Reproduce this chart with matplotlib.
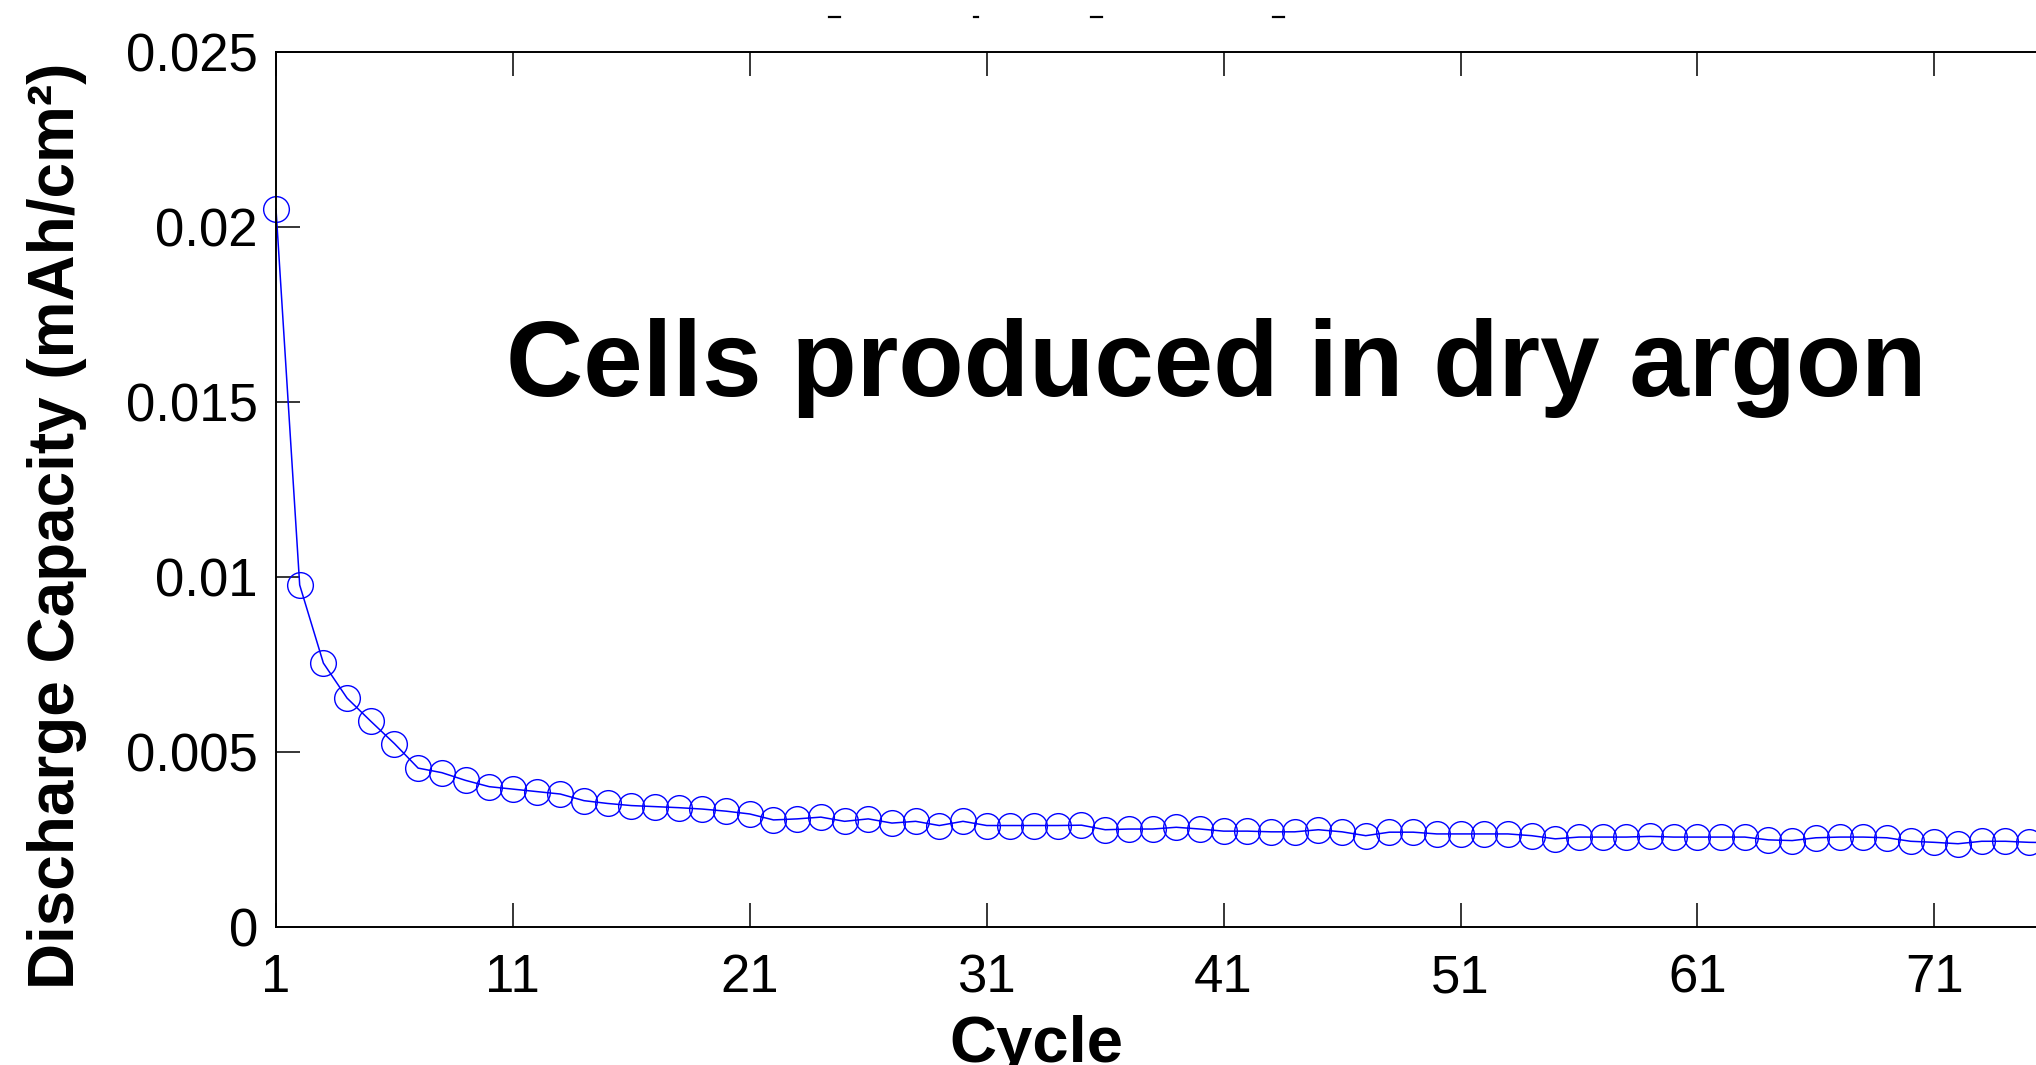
import numpy as np
import matplotlib.pyplot as plt
from matplotlib.lines import Line2D

plt.rcParams['font.family'] = ['Liberation Sans', 'DejaVu Sans']

# discharge capacity per cycle (mAh/cm^2)
cycles = np.arange(1, 77)
capacity = [
    0.0205, 0.00976, 0.00753, 0.00653, 0.00587, 0.00523, 0.00453, 0.00440,
    0.00418, 0.00400, 0.00393, 0.00386, 0.00379, 0.00360, 0.00352, 0.00346,
    0.00343, 0.00340, 0.00336, 0.00330, 0.00322, 0.00305, 0.00308, 0.00313,
    0.00301, 0.00308, 0.00296, 0.00301, 0.00289, 0.00301, 0.00289, 0.00289,
    0.00289, 0.00289, 0.00290, 0.00277, 0.00279, 0.00279, 0.00284, 0.00279,
    0.00273, 0.00273, 0.00271, 0.00271, 0.00277, 0.00271, 0.00260, 0.00270,
    0.00270, 0.00265, 0.00265, 0.00265, 0.00265, 0.00260, 0.00251, 0.00256,
    0.00256, 0.00256, 0.00258, 0.00256, 0.00256, 0.00256, 0.00256, 0.00248,
    0.00246, 0.00254, 0.00256, 0.00256, 0.00254, 0.00244, 0.00241, 0.00237,
    0.00244, 0.00244, 0.00241, 0.00240,
]

x_ticks = [1, 11, 21, 31, 41, 51, 61, 71]
y_ticks = [0, 0.005, 0.01, 0.015, 0.02, 0.025]
y_tick_labels = ['0', '0.005', '0.01', '0.015', '0.02', '0.025']

W, H = 2036, 1065
fig = plt.figure(figsize=(W / 100, H / 100), dpi=100)
fig.patch.set_facecolor('white')

# axes run past the right edge of the picture (cropped original)
left, bottom, top = 276, 926.7, 51.5
px_per_cycle = 23.69
ax = fig.add_axes([left / W, (H - bottom) / H,
                   80 * px_per_cycle / W, (bottom - top) / H])

ax.plot(cycles, capacity, color='#0000ff', linewidth=1.1,
        marker='o', markersize=18.5, markerfacecolor='none',
        markeredgewidth=1.0, markeredgecolor='#0000ff', clip_on=False)

ax.set_xlim(1, 81)
ax.set_ylim(0, 0.025)
ax.set_xticks(x_ticks)
ax.set_yticks(y_ticks, y_tick_labels)

for s in ax.spines.values():
    s.set_linewidth(1.4)
    s.set_color('black')
ax.tick_params(direction='in', length=17, width=1.1, labelsize=38,
               top=True, right=True, colors='black')
ax.tick_params(axis='y', pad=13)
ax.tick_params(axis='x', pad=19)

fig.text(57 / W, (H - 526) / H, 'Discharge Capacity (mAh/cm²)',
         rotation=90, ha='center', va='center', fontsize=46,
         fontweight='bold')
fig.text(1036 / W, 3 / H, 'Cycle', ha='center', va='baseline',
         fontsize=47, fontweight='bold')
fig.text(506 / W, (H - 396) / H, 'Cells produced in dry argon',
         ha='left', va='baseline', fontsize=77, fontweight='bold')

# leftover dashes of a cropped title at the very top
for x0, w in [(829, 11), (974, 4), (1091, 11), (1273, 11)]:
    fig.add_artist(Line2D([x0 / W, (x0 + w) / W], [(H - 17) / H] * 2,
                          color='black', linewidth=1.6))

fig.savefig('out.png', dpi=100, facecolor='white')
